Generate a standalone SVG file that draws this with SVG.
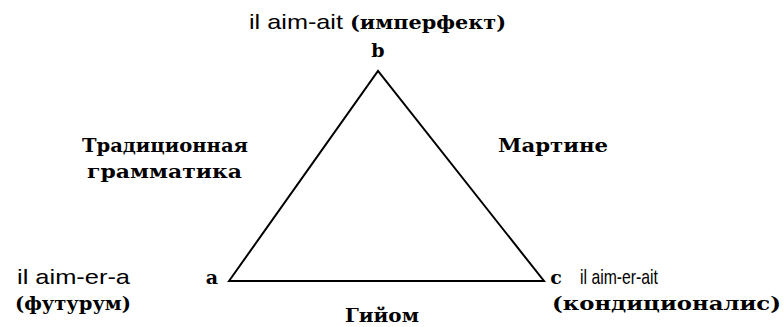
<svg xmlns="http://www.w3.org/2000/svg" width="784" height="327" viewBox="0 0 784 327">
<style>
.lat{font-family:"Liberation Sans Narrow","Liberation Sans",Arial,sans-serif;font-size:21px;fill:#000}
.cyr{font-family:"DejaVu Serif","Liberation Serif",serif;font-size:19px;font-weight:bold;fill:#000}
.edge{fill:none;stroke:#000;stroke-width:2;stroke-linejoin:miter}
</style>
<rect width="784" height="327" fill="#fff"/>
<g id="connectors">
<path class="edge" d="M229,281 L378,71 L544,281 Z"/>
</g>
<g id="node-b">
<text class="lat" x="249" y="29" textLength="94" lengthAdjust="spacingAndGlyphs">il aim-ait</text>
<text class="cyr" x="350" y="29" textLength="156" lengthAdjust="spacingAndGlyphs">(имперфект)</text>
<text class="cyr" x="378" y="57" text-anchor="middle">b</text>
</g>
<g id="node-a">
<text class="lat" x="17" y="284" textLength="113" lengthAdjust="spacingAndGlyphs">il aim-er-a</text>
<text class="cyr" x="15" y="310" textLength="116" lengthAdjust="spacingAndGlyphs">(футурум)</text>
<text class="cyr" x="212" y="284" text-anchor="middle">a</text>
</g>
<g id="node-c">
<text class="cyr" x="556" y="284" text-anchor="middle">c</text>
<text class="lat" x="580" y="284" textLength="78" lengthAdjust="spacingAndGlyphs">il aim-er-ait</text>
<text class="cyr" x="552" y="310" textLength="229" lengthAdjust="spacingAndGlyphs">(кондиционалис)</text>
</g>
<g id="label-ab">
<text class="cyr" x="82" y="152" textLength="166" lengthAdjust="spacingAndGlyphs">Традиционная</text>
<text class="cyr" x="87" y="178" textLength="155" lengthAdjust="spacingAndGlyphs">грамматика</text>
</g>
<g id="label-bc">
<text class="cyr" x="498" y="152" textLength="110" lengthAdjust="spacingAndGlyphs">Мартине</text>
</g>
<g id="label-ac">
<text class="cyr" x="382" y="322" text-anchor="middle" textLength="74" lengthAdjust="spacingAndGlyphs">Гийом</text>
</g>
</svg>
